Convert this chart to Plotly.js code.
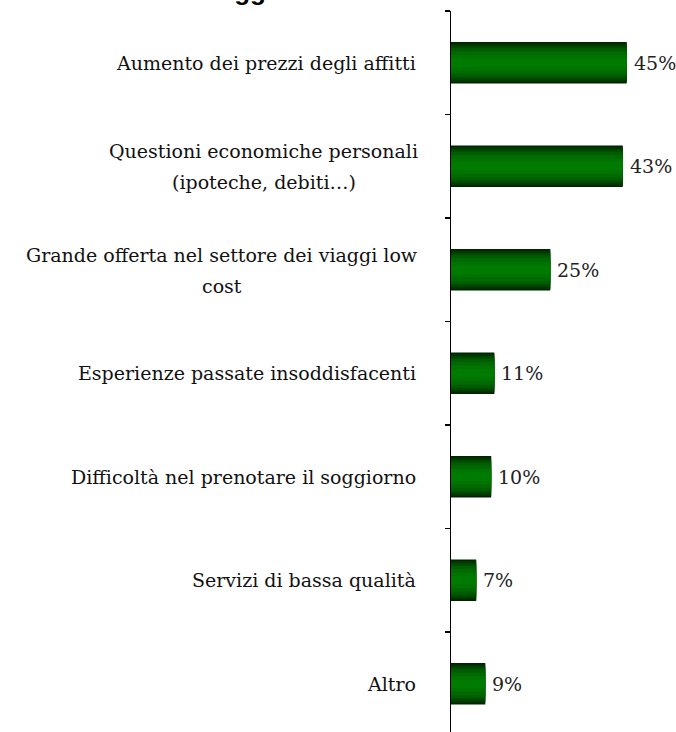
<!DOCTYPE html>
<html>
<head>
<meta charset="utf-8">
<script src="https://cdn.plot.ly/plotly-3.0.1.min.js"></script>
<style>html,body{margin:0;padding:0;background:#fff;}#chart{width:676px;height:732px;}</style>
</head>
<body>
<div id="chart"></div>
<script>
const categories = [
  "Aumento dei prezzi degli affitti",
  "Questioni economiche personali<br>(ipoteche, debiti…)",
  "Grande offerta nel settore dei viaggi low<br>cost",
  "Esperienze passate insoddisfacenti",
  "Difficoltà nel prenotare il soggiorno",
  "Servizi di bassa qualità",
  "Altro"
];
const values = [44.6, 43.6, 25.2, 11.0, 10.2, 6.4, 8.7];
const valueLabels = ["45%", "43%", "25%", "11%", "10%", "7%", "9%"];
const titleText = "Motivi della rinuncia al viaggio";

const serif = "DejaVu Serif, serif";
const layers = [
  {w: 0.40, c: "#002400"},
  {w: 0.37, c: "#003600"},
  {w: 0.33, c: "#004a00"},
  {w: 0.28, c: "#005c00"},
  {w: 0.22, c: "#006a00"},
  {w: 0.15, c: "#007400"},
  {w: 0.08, c: "#007a00"}
];
const traces = layers.map(l => ({
  type: "bar", orientation: "h", x: values, y: categories,
  width: l.w, marker: {color: l.c, line: {width: 0}},
  hoverinfo: "skip", showlegend: false
}));

const catAnnotations = [];
categories.forEach(c => {
  const lines = c.split("<br>");
  const shifts = lines.length === 1 ? [0] : [15, -16];
  lines.forEach((ln, k) => {
    catAnnotations.push({
      xref: "paper", yref: "y", x: 0, y: c, xanchor: lines.length === 1 ? "right" : "center",
      yanchor: "middle", xshift: lines.length === 1 ? -33 : 0, yshift: shifts[k],
      text: ln, showarrow: false,
      font: {family: serif, size: 19, color: "#111"}
    });
  });
});

const valAnnotations = values.map((v, i) => ({
  xref: "x", yref: "y", x: v, y: categories[i], xanchor: "left", yanchor: "middle",
  xshift: 5, text: valueLabels[i], showarrow: false,
  font: {family: serif, size: 19, color: "#222"}
}));
const titleAnnotation = {
  xref: "paper", yref: "paper", x: (291 - 451) / 225, y: 1, xanchor: "right", yanchor: "bottom",
  yshift: 3, text: "<b>" + titleText + "</b>", showarrow: false,
  font: {family: "Liberation Sans, Arial, sans-serif", size: 26, color: "#000"}
};

const layout = {
  width: 676, height: 732,
  margin: {l: 451, r: 0, t: 11, b: 0},
  paper_bgcolor: "#fff", plot_bgcolor: "#fff",
  barmode: "overlay",
  showlegend: false,
  xaxis: {range: [0, 57.1], visible: false, fixedrange: true},
  yaxis: {
    type: "category", categoryorder: "array", categoryarray: categories,
    range: [6.466, -0.5], tickson: "boundaries", ticks: "outside", ticklen: 5,
    tickcolor: "#000", tickwidth: 1.5, showticklabels: false,
    showline: true, linecolor: "#000", linewidth: 1.5, showgrid: false, zeroline: false
  },
  annotations: catAnnotations.concat(valAnnotations, [titleAnnotation])
};

Plotly.newPlot("chart", traces, layout, {displayModeBar: false, staticPlot: true}).then(gd => {
  // two-line labels: centre both lines on the first line, whose right edge sits 33px left of the axis
  const anns = gd.layout.annotations;
  const nodes = gd.querySelectorAll(".annotation");
  const upd = {};
  anns.forEach((a, idx) => {
    if (a.xanchor === "center") {
      const first = anns.findIndex(b => b.y === a.y && b.xanchor === "center");
      const w = nodes[first].querySelector("text").getBBox().width;
      upd["annotations[" + idx + "].xshift"] = -33 - w / 2;
    }
  });
  return Plotly.relayout(gd, upd);
});
</script>
</body>
</html>
